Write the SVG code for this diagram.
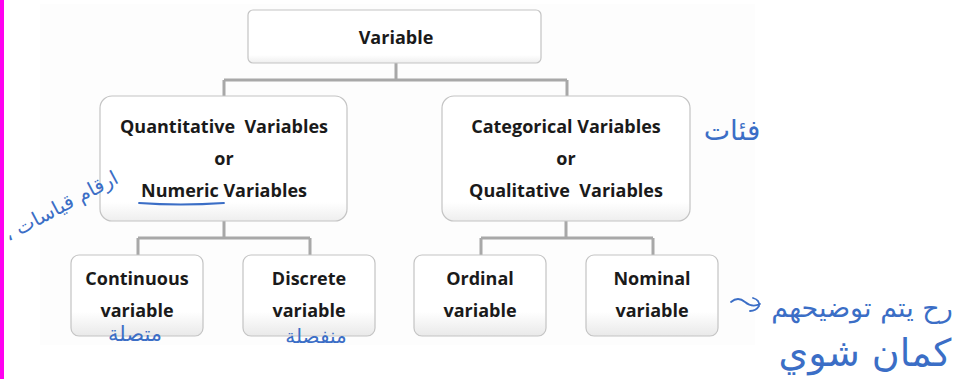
<svg xmlns="http://www.w3.org/2000/svg" width="959" height="379" viewBox="0 0 959 379">
<defs>
<linearGradient id="bg" x1="0" y1="0" x2="0" y2="1">
<stop offset="0" stop-color="#ffffff"/>
<stop offset="0.7" stop-color="#ffffff"/>
<stop offset="1" stop-color="#e9e9e9"/>
</linearGradient>
<linearGradient id="bgs" x1="0" y1="0" x2="0" y2="1">
<stop offset="0" stop-color="#ffffff"/>
<stop offset="0.85" stop-color="#ffffff"/>
<stop offset="1" stop-color="#eeeeee"/>
</linearGradient>
</defs>
<style>
.box{stroke:#c4c4c4;stroke-width:1.2;fill:url(#bgs)}
.bbox{stroke:#c4c4c4;stroke-width:1.2;fill:url(#bg)}
.lbl{font-family:"Open Sans","Liberation Sans",sans-serif;font-weight:bold;font-size:18px;fill:#1a1a1a;text-anchor:middle}
.conn{stroke:#a8a8a8;stroke-width:3;fill:none}
.hand{font-family:"DejaVu Sans","Noto Sans",sans-serif;fill:#3b6ec6;text-anchor:middle}
.ink{stroke:#3b6ec6;stroke-width:1.8;fill:none;stroke-linecap:round}
</style>
<rect width="959" height="379" fill="#ffffff"/>
<rect x="40" y="4" width="715" height="341" fill="#fdfdfd"/>
<rect x="0" y="0" width="4" height="379" fill="#ff00f0"/>

<g id="connectors">
<path class="conn" d="M396,63 V80 M224,80 H567 M224,80 V96 M567,80 V96"/>
<path class="conn" d="M224,221 V238 M138,238 H310 M138,238 V255 M310,238 V255"/>
<path class="conn" d="M566,221 V238 M481,238 H653 M481,238 V255 M653,238 V255"/>
</g>

<g id="variable">
<rect class="box" x="248" y="10" width="293" height="53" rx="5"/>
<text class="lbl" x="396" y="44">Variable</text>
</g>

<g id="quantitative">
<rect class="box" x="100" y="96" width="247" height="125" rx="12"/>
<text class="lbl" x="224" y="133" xml:space="preserve">Quantitative  Variables</text>
<text class="lbl" x="224" y="165">or</text>
<text class="lbl" x="224" y="197">Numeric Variables</text>
</g>

<g id="categorical">
<rect class="box" x="442" y="96" width="248" height="125" rx="12"/>
<text class="lbl" x="566" y="133">Categorical Variables</text>
<text class="lbl" x="566" y="165">or</text>
<text class="lbl" x="566" y="197" xml:space="preserve">Qualitative  Variables</text>
</g>

<g id="continuous">
<rect class="bbox" x="71" y="255" width="132" height="81" rx="8"/>
<text class="lbl" x="137" y="285">Continuous</text>
<text class="lbl" x="137" y="317">variable</text>
</g>

<g id="discrete">
<rect class="bbox" x="243" y="255" width="132" height="81" rx="8"/>
<text class="lbl" x="309" y="285">Discrete</text>
<text class="lbl" x="309" y="317">variable</text>
</g>

<g id="ordinal">
<rect class="bbox" x="414" y="255" width="132" height="81" rx="8"/>
<text class="lbl" x="480" y="285">Ordinal</text>
<text class="lbl" x="480" y="317">variable</text>
</g>

<g id="nominal">
<rect class="bbox" x="586" y="255" width="132" height="81" rx="8"/>
<text class="lbl" x="652" y="285">Nominal</text>
<text class="lbl" x="652" y="317">variable</text>
</g>

<g id="annotations">
<path class="ink" d="M139,203 Q180,206 224,203"/>
<text class="hand" x="732" y="140" font-size="28">فئات</text>
<text class="hand" x="0" y="0" font-size="20" direction="rtl" transform="translate(64,212) rotate(-28)">ارقام قياسات ،</text>
<text class="hand" x="135" y="341" font-size="21">متصلة</text>
<text class="hand" x="316" y="343" font-size="20">منفصلة</text>
<path class="ink" d="M731,302 Q738,296 745,302 Q752,308 760,304 M753,298 Q760,300 759,306 Q756,311 750,311"/>
<text class="hand" x="862" y="317" font-size="27">رح يتم توضيحهم</text>
<text class="hand" x="865" y="366" font-size="38">كمان شوي</text>
</g>
</svg>
